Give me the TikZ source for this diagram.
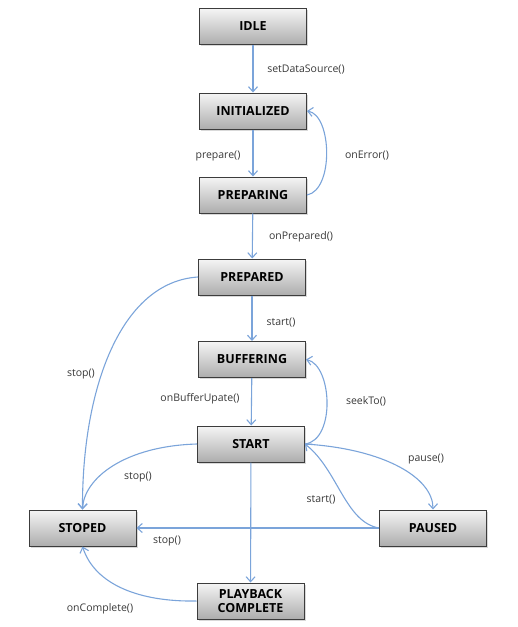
\documentclass[tikz,border=0pt]{standalone}
\usepackage{fontspec}
\setmainfont{Open Sans}
\usetikzlibrary{arrows.meta,shadows}
\definecolor{edgeblue}{HTML}{7BA4DA}
\definecolor{boxborder}{HTML}{3C3C3C}
\begin{document}
\begin{tikzpicture}[x=1pt,y=-1pt,
  state/.style={draw=boxborder,line width=1pt,top color=black!4,bottom color=black!32,
    minimum width=107pt,minimum height=36pt,inner sep=1pt,align=center,
    font=\bfseries\fontsize{12.5}{14}\selectfont,
    drop shadow={shadow xshift=1.5pt,shadow yshift=-1.5pt,opacity=0.3}},
  tr/.style={draw=edgeblue,line width=1.1pt,-{Straight Barb[length=5pt,width=9pt]}},
  lbl/.style={font=\fontsize{10.5}{12}\selectfont,text=black!78,inner sep=1pt}]
\useasboundingbox (0,0) rectangle (518,627);
\node[state] (idle) at (253,26.5) {IDLE};
\node[state] (init) at (253,111) {INITIALIZED};
\node[state] (preparing) at (253,195) {PREPARING};
\node[state] (prepared) at (252,277) {PREPARED};
\node[state] (buffering) at (252,359.5) {BUFFERING};
\node[state] (start) at (251,444) {START};
\node[state] (stoped) at (82.5,528) {STOPED};
\node[state] (paused) at (433,528) {PAUSED};
\node[state] (playback) at (250.5,601) {PLAYBACK\\COMPLETE};

\draw[tr] (idle) -- (init);
\draw[tr] (init) -- (preparing);
\draw[tr] (preparing.east) .. controls (334,190) and (332,115) .. (init.east);
\draw[tr] (preparing) -- (prepared);
\draw[tr] (prepared) -- (buffering);
\draw[tr] (buffering) -- (start);
\draw[tr] (start.east) .. controls (336,440) and (332,365) .. (buffering.east);
\draw[tr] (prepared.west) .. controls (120,282) and (82,390) .. (stoped.north);
\draw[tr] (start.west) .. controls (125,446) and (84,478) .. (stoped.north);
\draw[tr] (start.east) .. controls (385,449) and (433,478) .. (paused.north);
\draw[tr] (paused.west) .. controls (345,522) and (338,470) .. (start.east);
\draw[tr] (paused.west) -- (stoped.east);
\draw[tr] (start) -- (playback);
\draw[tr] (playback.west) .. controls (140,602) and (95,585) .. (stoped.south);

\node[lbl] (l1) at (306,70) {setDataSource()};
\node[lbl] (l2) at (218,156) {prepare()};
\node[lbl] (l3) at (367,156) {onError()};
\node[lbl] (l4) at (301,237) {onPrepared()};
\node[lbl] (l5) at (281,323) {start()};
\node[lbl] (l6) at (200,399) {onBufferUpate()};
\node[lbl] (l7) at (366,401) {seekTo()};
\node[lbl] (l8) at (81,374) {stop()};
\node[lbl] (l9) at (138,477) {stop()};
\node[lbl] (l10) at (426,459) {pause()};
\node[lbl] (l11) at (321,500) {start()};
\node[lbl] (l12) at (167,541) {stop()};
\node[lbl] (l13) at (100,609) {onComplete()};
\end{tikzpicture}
\end{document}
